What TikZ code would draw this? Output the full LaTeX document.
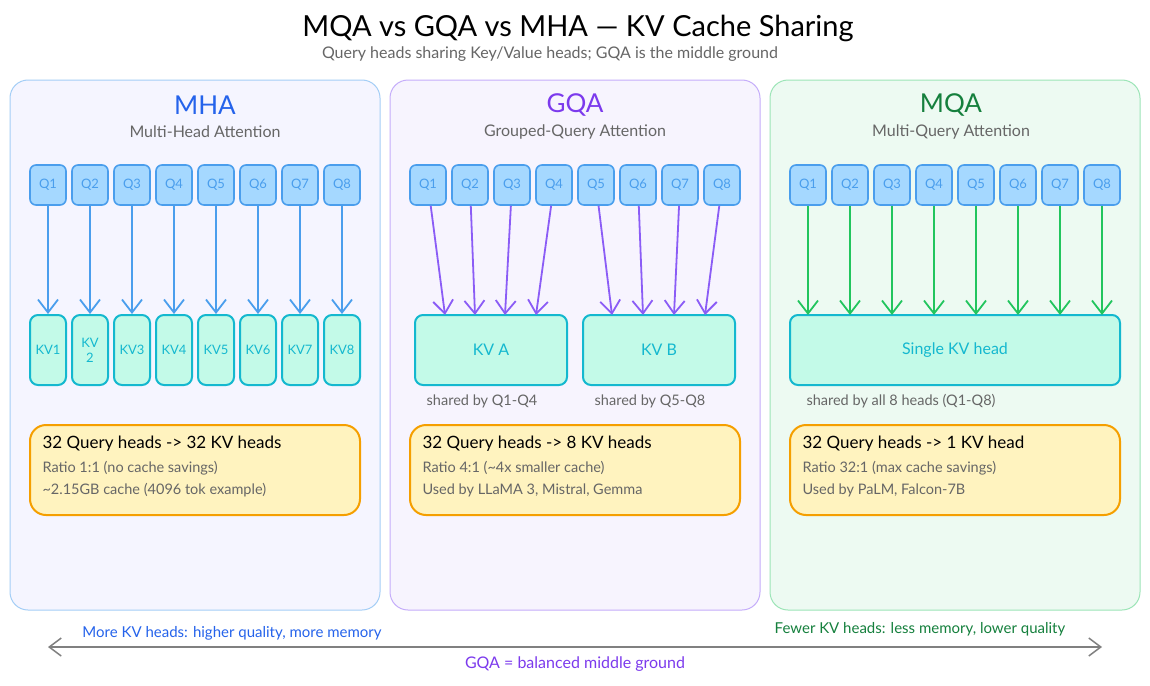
\documentclass[tikz,border=0pt]{standalone}
\usepackage{fontspec}
\setmainfont{Lato}
\usetikzlibrary{arrows.meta,positioning}
\definecolor{qfill}{HTML}{A5D8FF}\definecolor{qline}{HTML}{4A9EED}
\definecolor{kvfill}{HTML}{C3FAE8}\definecolor{kvline}{HTML}{14B8CF}
\definecolor{mhablue}{HTML}{2563EB}\definecolor{gqapurple}{HTML}{7C3AED}\definecolor{mqagreen}{HTML}{15803D}
\definecolor{arrpurple}{HTML}{8B5CF6}\definecolor{arrgreen}{HTML}{22C55E}
\definecolor{infofill}{HTML}{FFF3BF}\definecolor{infoline}{HTML}{F59F00}
\definecolor{subgray}{HTML}{666666}
\newcommand{\fs}[1]{\fontsize{#1}{#1}\selectfont}
\begin{document}
\begin{tikzpicture}[x=1pt,y=-1pt,
  panel/.style={rounded corners=18pt, line width=1pt},
  qhead/.style={rectangle, rounded corners=6pt, draw=qline, fill=qfill, line width=1.6pt, minimum width=36pt, minimum height=40pt, text=qline, font=\fs{13}},
  kvhead/.style={rectangle, rounded corners=8pt, draw=kvline, fill=kvfill, line width=2pt, text=kvline, font=\fs{16}},
  link/.style={line width=1.8pt, -{Straight Barb[length=13pt,width=20pt]}},
  info/.style={rectangle, rounded corners=16pt, draw=infoline, fill=infofill, line width=2pt, minimum width=330pt, minimum height=90pt},
  note/.style={text=subgray, font=\fs{14.5}}]
\useasboundingbox (0,0) rectangle (1150,685);
\fill[white] (0,0) rectangle (1150,685);

\node[font=\fs{29}] (title) at (578,28) {MQA vs GQA vs MHA --- KV Cache Sharing};
\node[note, font=\fs{16}] (subtitle) at (550,54) {Query heads sharing Key/Value heads; GQA is the middle ground};

% panels
\draw[panel, draw=qline!50, fill=blue!4] (10,80) rectangle (380,610);
\draw[panel, draw=arrpurple!50, fill=arrpurple!7] (390,80) rectangle (760,610);
\draw[panel, draw=arrgreen!45, fill=arrgreen!8] (770,80) rectangle (1140,610);

\node[text=mhablue, font=\fs{26}] (mha) at (205,105) {MHA};
\node[note, font=\fs{16}] (mhasub) at (205,132) {Multi-Head Attention};
\node[text=gqapurple, font=\fs{26}] (gqa) at (575,105) {GQA};
\node[note, font=\fs{16}] (gqasub) at (575,132) {Grouped-Query Attention};
\node[text=mqagreen, font=\fs{26}] (mqa) at (951,105) {MQA};
\node[note, font=\fs{16}] (mqasub) at (951,132) {Multi-Query Attention};

% MHA
\foreach \i in {1,...,8} {
  \node[qhead] (mq\i) at ({48+42*(\i-1)},185) {Q\i};
  \node[kvhead, minimum width=36pt, minimum height=70pt] (mkv\i) at ({48+42*(\i-1)},350) {};
  \draw[link, qline] (mq\i) -- (mkv\i);
}
\foreach \i in {1,3,4,5,6,7,8} \node[text=kvline, font=\fs{13}] at (mkv\i) {KV\i};
\node[text=kvline, font=\fs{13}, align=center] at (mkv2) {KV\\[2pt]2};

% GQA
\foreach \i in {1,...,8} \node[qhead] (gq\i) at ({428+42*(\i-1)},185) {Q\i};
\node[kvhead, minimum width=152pt, minimum height=70pt] (kva) at (491,350) {KV A};
\node[kvhead, minimum width=152pt, minimum height=70pt] (kvb) at (659,350) {KV B};
\foreach \i/\x in {1/445,2/475,3/505,4/536} {
  \coordinate (ga\i) at (\x,315);
  \draw[link, arrpurple] (gq\i) -- (ga\i);
}
\foreach \i/\x in {5/612,6/643,7/674,8/705} {
  \coordinate (gb\i) at (\x,315);
  \draw[link, arrpurple] (gq\i) -- (gb\i);
}
\node[note] (sha) at (482,401) {shared by Q1-Q4};
\node[note] (shb) at (650,401) {shared by Q5-Q8};

% MQA
\foreach \i in {1,...,8} \node[qhead] (sq\i) at ({808+42*(\i-1)},185) {Q\i};
\node[kvhead, minimum width=330pt, minimum height=70pt] (single) at (955,350) {Single KV head};
\foreach \i in {1,...,8} {
  \coordinate (sk\i) at ({808+42*(\i-1)},315);
  \draw[link, arrgreen] (sq\i) -- (sk\i);
}
\node[note] (shall) at (901,401) {shared by all 8 heads (Q1-Q8)};

% info boxes
\foreach \n/\x/\a/\b/\c in {mhainfo/195/{32 Query heads -> 32 KV heads}/{Ratio 1:1 (no cache savings)}/{\textasciitilde 2.15GB cache (4096 tok example)},
  gqainfo/575/{32 Query heads -> 8 KV heads}/{Ratio 4:1 (\textasciitilde 4x smaller cache)}/{Used by LLaMA 3, Mistral, Gemma},
  mqainfo/955/{32 Query heads -> 1 KV head}/{Ratio 32:1 (max cache savings)}/{Used by PaLM, Falcon-7B}} {
  \node[info] (\n) at (\x,470) {};
  \node[anchor=west, font=\fs{17}] at ([xshift=10pt]\n.west |- 0,444) {\a};
  \node[anchor=west, note] at ([xshift=10pt]\n.west |- 0,468) {\b};
  \node[anchor=west, note] at ([xshift=10pt]\n.west |- 0,490) {\c};
}

% bottom spectrum
\coordinate (left) at (48,647);
\coordinate (right) at (1102,647);
\draw[line width=1.5pt, gray, {Straight Barb[length=12pt,width=18pt]}-{Straight Barb[length=12pt,width=18pt]}] (left) -- (right);
\node[text=mhablue, font=\fs{15}] (more) at (232,633) {More KV heads: higher quality, more memory};
\node[text=mqagreen, font=\fs{15}] (fewer) at (920,629) {Fewer KV heads: less memory, lower quality};
\node[text=gqapurple, font=\fs{16}] (mid) at (575,664) {GQA = balanced middle ground};
\end{tikzpicture}
\end{document}
